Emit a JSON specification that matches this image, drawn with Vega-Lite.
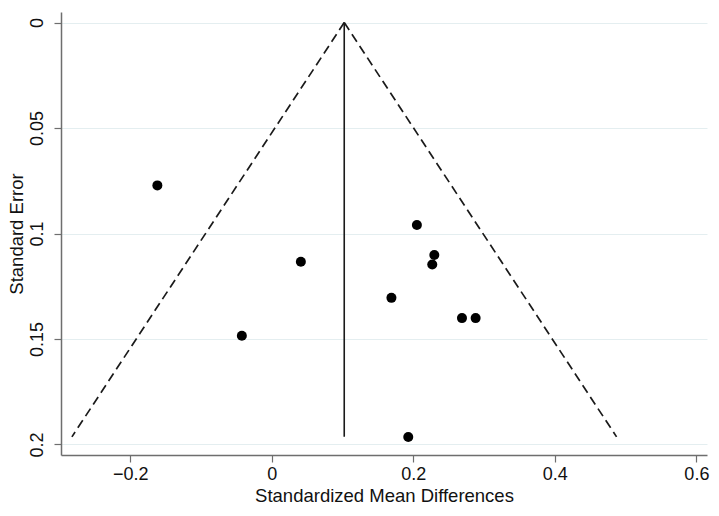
{
  "$schema": "https://vega.github.io/schema/vega-lite/v6.json",
  "autosize": "none",
  "padding": {"left": 61, "top": 12, "right": 12, "bottom": 61},
  "width": 646,
  "height": 443,
  "background": "white",
  "config": {
    "view": {"stroke": null},
    "font": "Liberation Sans",
    "axis": {
      "labelFont": "Liberation Sans",
      "titleFont": "Liberation Sans",
      "labelFontSize": 18,
      "titleFontSize": 18.5,
      "titleFontWeight": "normal",
      "labelColor": "#111",
      "titleColor": "#111",
      "domainColor": "#6e6e6e",
      "domainWidth": 1.5,
      "tickColor": "#6e6e6e",
      "tickWidth": 1.2
    }
  },
  "datasets": {
    "studies": [
      {"smd": -0.1618, "se": 0.0772},
      {"smd": 0.205, "se": 0.0960},
      {"smd": 0.2296, "se": 0.1102},
      {"smd": 0.2267, "se": 0.1147},
      {"smd": 0.041, "se": 0.1134},
      {"smd": 0.169, "se": 0.1305},
      {"smd": 0.2687, "se": 0.1401},
      {"smd": 0.288, "se": 0.1401},
      {"smd": -0.0424, "se": 0.1485},
      {"smd": 0.1928, "se": 0.1965}
    ],
    "funnel": [
      {"grp": "left", "smd": 0.1023, "se": 0},
      {"grp": "left", "smd": -0.2826, "se": 0.1964},
      {"grp": "right", "smd": 0.1023, "se": 0},
      {"grp": "right", "smd": 0.4872, "se": 0.1964}
    ],
    "pooled": [
      {"smd": 0.1023, "se0": 0, "se1": 0.1964}
    ]
  },
  "layer": [
    {
      "data": {"name": "funnel"},
      "mark": {"type": "line", "color": "#1a1a1a", "strokeWidth": 1.7, "strokeDash": [9, 5]},
      "encoding": {
        "x": {
          "field": "smd", "type": "quantitative",
          "scale": {"domain": [-0.298, 0.615], "nice": false, "zero": false},
          "axis": {
            "title": "Standardized Mean Differences",
            "values": [-0.2, 0, 0.2, 0.4, 0.6],
            "format": "~g",
            "grid": false,
            "tickSize": 7,
            "labelPadding": 3,
            "titlePadding": 3
          }
        },
        "y": {
          "field": "se", "type": "quantitative",
          "scale": {"domain": [-0.005, 0.205], "reverse": true, "nice": false, "zero": false},
          "axis": {
            "title": "Standard Error",
            "values": [0, 0.05, 0.1, 0.15, 0.2],
            "format": "~g",
            "grid": true,
            "gridColor": "#e4eef0",
            "gridWidth": 1,
            "tickSize": 7,
            "labelAngle": -90,
            "labelAlign": "center",
            "labelBaseline": "bottom",
            "labelPadding": 8,
            "titlePadding": 2
          }
        },
        "detail": {"field": "grp"},
        "order": {"field": "se", "type": "quantitative"}
      }
    },
    {
      "data": {"name": "pooled"},
      "mark": {"type": "rule", "color": "#1a1a1a", "strokeWidth": 1.6},
      "encoding": {
        "x": {"field": "smd", "type": "quantitative"},
        "y": {"field": "se0", "type": "quantitative"},
        "y2": {"field": "se1"}
      }
    },
    {
      "data": {"name": "studies"},
      "mark": {"type": "point", "filled": true, "shape": "circle", "size": 100, "color": "black", "opacity": 1},
      "encoding": {
        "x": {"field": "smd", "type": "quantitative"},
        "y": {"field": "se", "type": "quantitative"}
      }
    }
  ]
}
